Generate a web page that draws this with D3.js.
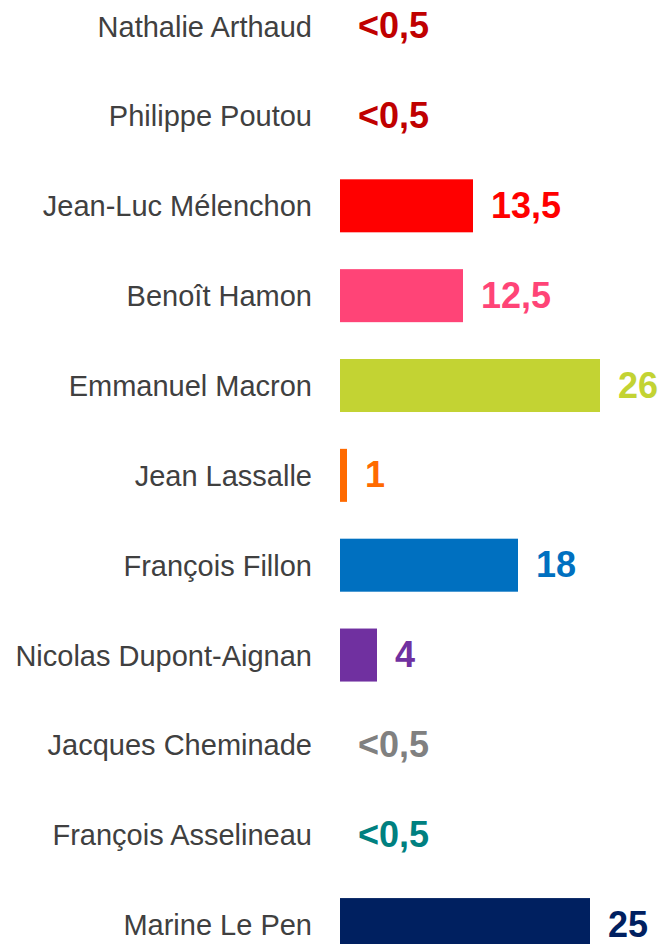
<!DOCTYPE html>
<html><head><meta charset="utf-8">
<script src="https://cdn.jsdelivr.net/npm/d3@7"></script>
<style>body{margin:0;background:#fff;overflow:hidden}</style>
</head><body><div id="chart"></div>
<script>
const categories = ["Nathalie Arthaud","Philippe Poutou","Jean-Luc Mélenchon","Benoît Hamon","Emmanuel Macron","Jean Lassalle","François Fillon","Nicolas Dupont-Aignan","Jacques Cheminade","François Asselineau","Marine Le Pen"];
const values = [0, 0, 13.3, 12.3, 26, 0.7, 17.8, 3.7, 0, 0, 25];
const valueLabels = ["<0,5","<0,5","13,5","12,5","26","1","18","4","<0,5","<0,5","25"];
const colors = ["#c00000","#c00000","#ff0000","#ff4477","#c3d333","#ff6a00","#0070c0","#7030a0","#808080","#008080","#002060"];

const W = 662, H = 944;
const svg = d3.select("#chart").append("svg").attr("width", W).attr("height", H);

const x = d3.scaleLinear().domain([0, 26]).range([340, 600]);
const y = d3.scaleBand().domain(categories).range([-18.8, 969.5]).paddingInner(0.41).paddingOuter(0.205);

const rows = svg.selectAll("g.row").data(categories).join("g").attr("class","row");

rows.append("rect")
  .attr("x", x(0))
  .attr("y", d => y(d))
  .attr("width", (d,i) => x(values[i]) - x(0))
  .attr("height", y.bandwidth())
  .attr("fill", (d,i) => colors[i]);

rows.append("text")
  .attr("x", 312)
  .attr("y", d => y(d) + y.bandwidth()/2 + 10.5)
  .attr("text-anchor", "end")
  .style("font-family", "'Liberation Sans', Arial, sans-serif")
  .attr("font-size", 29)
  .attr("fill", "#404040")
  .text(d => d);

rows.append("text")
  .attr("x", (d,i) => x(values[i]) + 18)
  .attr("y", d => y(d) + y.bandwidth()/2 + 12)
  .attr("text-anchor", "start")
  .style("font-family", "'Liberation Sans', Arial, sans-serif")
  .attr("font-weight", "bold")
  .attr("font-size", 36)
  .attr("fill", (d,i) => colors[i])
  .text((d,i) => valueLabels[i]);
</script></body></html>
